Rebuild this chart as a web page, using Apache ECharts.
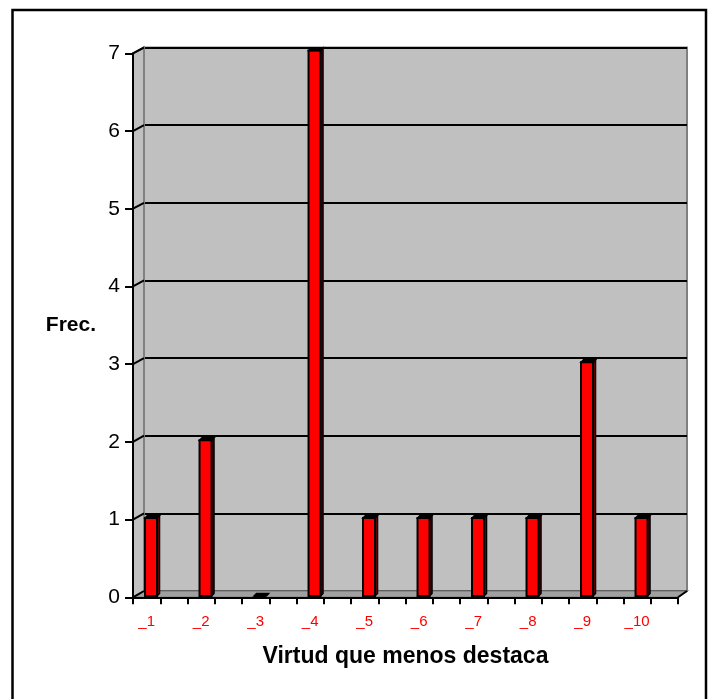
<!DOCTYPE html>
<html>
<head>
<meta charset="utf-8">
<script src="https://cdn.jsdelivr.net/npm/echarts@6/dist/echarts.min.js"></script>
<style>
  html, body { margin: 0; padding: 0; background: #ffffff; }
  #chart { width: 710px; height: 699px; }
</style>
</head>
<body>
<div id="chart"></div>
<script>
// ---- data ----
const categories = ['_1', '_2', '_3', '_4', '_5', '_6', '_7', '_8', '_9', '_10'];
const frequencies = [1, 2, 0, 7, 1, 1, 1, 1, 3, 1];
const yMin = 0, yMax = 7, yStep = 1;
const yAxisTitle = 'Frec.';
const xAxisTitle = 'Virtud que menos destaca';

// each category takes two slots on the axis (label slot + spacer slot)
const slots = [];
for (let i = 0; i < categories.length * 2; i++) slots.push(String(i));
const barData = categories.map((c, i) => [i * 2, frequencies[i]]);

const FONT = 'Liberation Sans, Arial, Helvetica, sans-serif';
const chart = echarts.init(document.getElementById('chart'), null, { renderer: 'canvas' });

const option = {
  backgroundColor: '#ffffff',
  animation: false,
  grid: [
    // back wall
    { left: 144, right: 23, top: 47.5, bottom: 108, show: true, backgroundColor: '#c0c0c0', borderColor: '#808080', borderWidth: 2, z: 0 },
    // front axes
    { left: 133, right: 32, top: 53.3, bottom: 101.7 },
    // bar depth plane
    { left: 137.4, right: 27.6, top: 50.5, bottom: 103 }
  ],
  xAxis: [
    { gridIndex: 0, type: 'category', data: slots, show: false },
    {
      gridIndex: 1, type: 'category', data: slots, boundaryGap: true, z: 6,
      axisLine: { show: true, lineStyle: { color: '#000', width: 2 } },
      axisTick: { show: true, interval: 0, length: 7, lineStyle: { color: '#000', width: 2 } },
      axisLabel: {
        interval: 0, margin: 17, color: '#ff0000', fontSize: 15, fontFamily: FONT,
        formatter: (v, idx) => (idx % 2 === 0 ? categories[idx / 2] : '')
      },
      splitLine: { show: false },
      name: xAxisTitle, nameLocation: 'middle', nameGap: 48,
      nameTextStyle: { color: '#000', fontSize: 23, fontWeight: 'bold', fontFamily: FONT }
    },
    { gridIndex: 2, type: 'category', data: slots, show: false }
  ],
  yAxis: [
    {
      gridIndex: 0, type: 'value', min: yMin, max: yMax, interval: yStep,
      axisLine: { show: false }, axisTick: { show: false }, axisLabel: { show: false },
      splitLine: { show: true, lineStyle: { color: '#000', width: 2 } }
    },
    {
      gridIndex: 1, type: 'value', min: yMin, max: yMax, interval: yStep, z: 6,
      axisLine: { show: true, lineStyle: { color: '#000', width: 2 } },
      axisTick: { show: true, length: 8, lineStyle: { color: '#000', width: 2 } },
      axisLabel: { margin: 13, color: '#000', fontSize: 21, fontFamily: FONT },
      splitLine: { show: false },
      name: yAxisTitle, nameLocation: 'middle', nameRotate: 0, nameGap: 37,
      nameTextStyle: { color: '#000', fontSize: 21, fontWeight: 'bold', fontFamily: FONT }
    },
    { gridIndex: 2, type: 'value', min: yMin, max: yMax, interval: yStep, show: false }
  ],
  series: [{
    type: 'custom',
    xAxisIndex: 2, yAxisIndex: 2,
    z: 4,
    data: barData,
    renderItem: function (params, api) {
      const top = api.coord([api.value(0), api.value(1)]);
      const base = api.coord([api.value(0), 0]);
      const w = api.size([1, 0])[0] * 0.44;
      const x0 = top[0] - w / 2, x1 = top[0] + w / 2;
      const dx = 2.5, dy = 2.5;
      return {
        type: 'group',
        children: [
          { type: 'polygon', shape: { points: [[x1, top[1]], [x1 + dx, top[1] - dy], [x1 + dx, base[1] - dy], [x1, base[1]]] },
            style: { fill: '#800000', stroke: '#000', lineWidth: 1.5 } },
          { type: 'rect', shape: { x: x0, y: top[1], width: w, height: base[1] - top[1] },
            style: { fill: '#ff0000', stroke: '#000', lineWidth: 2 } },
          { type: 'polygon', shape: { points: [[x0, top[1]], [x1, top[1]], [x1 + dx, top[1] - dy], [x0 + dx, top[1] - dy]] },
            style: { fill: '#000', stroke: '#000', lineWidth: 1.5 } }
        ]
      };
    }
  }]
};
chart.setOption(option);

// ---- 3D decorations derived from the grids' own coordinate systems ----
const rectOf = (i) => chart.getModel().getComponent('grid', i).coordinateSystem.getRect();
const back = rectOf(0), front = rectOf(1);
const yFront = (v) => chart.convertToPixel({ yAxisIndex: 1 }, v);
const yBack = (v) => chart.convertToPixel({ yAxisIndex: 0 }, v);
const fx0 = front.x, fx1 = front.x + front.width, fyb = front.y + front.height, fyt = front.y;
const bx0 = back.x, bx1 = back.x + back.width, byb = back.y + back.height, byt = back.y;

const graphics = [];
// side wall
graphics.push({ type: 'polygon', z: 1, shape: { points: [[fx0, fyb], [fx0, fyt], [bx0, byt], [bx0, byb]] },
  style: { fill: '#c0c0c0', stroke: '#808080', lineWidth: 2 } });
// floor
graphics.push({ type: 'polygon', z: 1, shape: { points: [[fx0, fyb], [fx1, fyb], [bx1, byb], [bx0, byb]] },
  style: { fill: '#a0a0a0', stroke: '#808080', lineWidth: 1.5 } });
// right end of the floor edge
graphics.push({ type: 'line', z: 5, shape: { x1: fx1, y1: fyb, x2: bx1, y2: byb }, style: { stroke: '#000', lineWidth: 2 } });
// gridline connectors on the side wall
for (let v = yMin; v <= yMax; v += yStep) {
  graphics.push({ type: 'line', z: 2, shape: { x1: fx0, y1: yFront(v), x2: bx0, y2: yBack(v) }, style: { stroke: '#000', lineWidth: 2 } });
}
// outer frame
graphics.push({ type: 'rect', z: 0, shape: { x: 12.5, y: 10, width: 693.5, height: 720 }, style: { fill: 'none', stroke: '#000', lineWidth: 2.5 } });
chart.setOption({ graphic: graphics });
</script>
</body>
</html>
